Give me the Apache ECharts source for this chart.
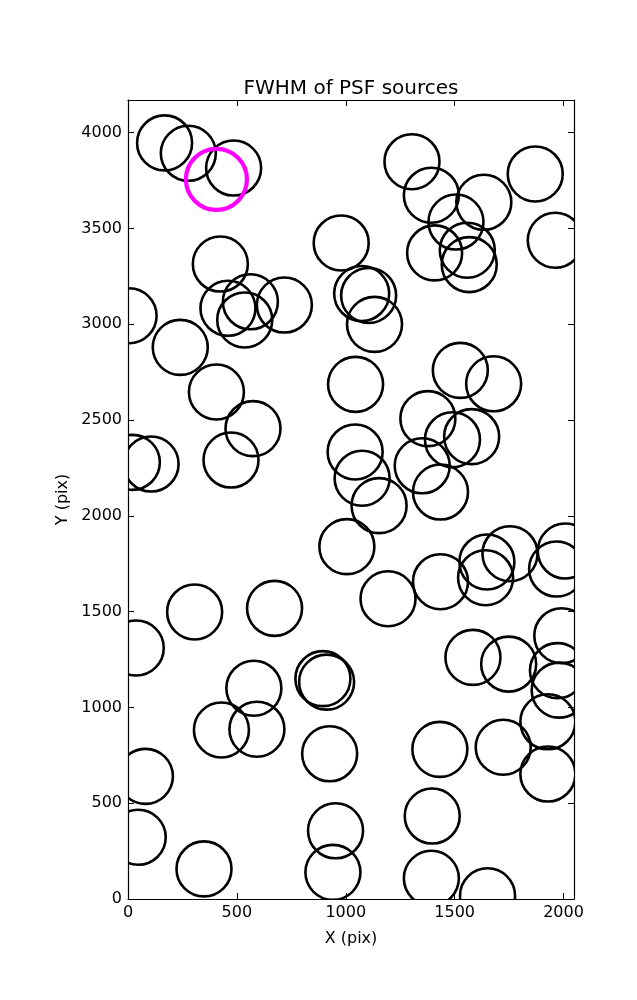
<!DOCTYPE html>
<html>
<head>
<meta charset="utf-8">
<script src="https://cdn.jsdelivr.net/npm/echarts@6/dist/echarts.min.js"></script>
<style>html,body{margin:0;padding:0;background:#fff;}#c{width:637px;height:1000px;}</style>
</head>
<body>
<div id="c"></div>
<script>
// Source positions (pix)
var srcX = [168,277,485,424,979,1304,1393,1634,1506,1870,1962,1408,1558,1567,1073,1105,1132,5,240,406,574,473,20,106,459,562,536,718,1045,1043,1075,1526,1679,1377,1578,1490,1351,1435,1153,1005,1194,1435,1642,1648,1754,1968,2008,1584,1748,1992,1972,1980,306,673,38,578,895,912,429,592,926,80,47,349,953,941,1432,1723,1928,1928,1397,1393,1651];
var srcY = [3946,3892,3815,3314,3424,3848,3673,3636,3533,3784,3438,3372,3386,3311,3160,3150,2999,3044,2879,2646,2455,2291,2279,2270,3083,3117,3022,3100,2686,2333,2196,2759,2689,2507,2413,2397,2261,2124,2053,1839,1567,1656,1677,1759,1802,1722,1816,1261,1226,1374,1192,1090,1498,1517,1310,1100,1150,1132,882,886,758,640,322,157,356,139,781,792,652,925,433,108,17];
// Highlighted source
var hiX = [406];
var hiY = [3756];

var xTicks = [0,500,1000,1500,2000];
var yTicks = [0,500,1000,1500,2000,2500,3000,3500,4000];
var X_MAX = 2048, Y_MAX = 4170;

var normal = srcX.map(function(x,i){return [x, srcY[i]];});
var hi = hiX.map(function(x,i){return [x, hiY[i]];});

function circleRenderer(r, color, lw){
  return function(params, api){
    var p = api.coord([api.value(0), api.value(1)]);
    return {type:'circle', shape:{cx:p[0], cy:p[1], r:r}, style:{fill:'none', stroke:color, lineWidth:lw}};
  };
}

var font = 'DejaVu Sans';
var chart = echarts.init(document.getElementById('c'));
var tickStyle = {show:true, inside:true, length:6, lineStyle:{color:'#000', width:1}};
var lineStyle = {show:true, onZero:false, lineStyle:{color:'#000', width:1.2}};
function fmt(v){ return xTicks.indexOf(v) >= 0 || yTicks.indexOf(v) >= 0 ? String(v) : ''; }
chart.setOption({
  animation:false,
  title:{text:'FWHM of PSF sources', left:346, top:74, textAlign:'center', textStyle:{fontFamily:font, fontSize:20, fontWeight:'normal', color:'#000'}},
  grid:{left:128, top:100, width:446, height:799, containLabel:false},
  xAxis:[
    {type:'value', min:0, max:X_MAX, interval:500, position:'bottom', axisLine:lineStyle, axisTick:tickStyle, splitLine:{show:false},
     axisLabel:{fontFamily:font, fontSize:16, color:'#000', margin:6, showMaxLabel:false, formatter:fmt},
     name:'X (pix)', nameLocation:'middle', nameGap:32, nameTextStyle:{fontFamily:font, fontSize:16, color:'#000'}},
    {type:'value', min:0, max:X_MAX, interval:500, position:'top', axisLine:lineStyle, axisTick:tickStyle, splitLine:{show:false}, axisLabel:{show:false}}
  ],
  yAxis:[
    {type:'value', min:0, max:Y_MAX, interval:500, position:'left', axisLine:lineStyle, axisTick:tickStyle, splitLine:{show:false},
     axisLabel:{fontFamily:font, fontSize:16, color:'#000', margin:6, showMaxLabel:false, formatter:fmt},
     name:'Y (pix)', nameLocation:'middle', nameGap:56, nameTextStyle:{fontFamily:font, fontSize:16, color:'#000'}},
    {type:'value', min:0, max:Y_MAX, interval:500, position:'right', axisLine:lineStyle, axisTick:tickStyle, splitLine:{show:false}, axisLabel:{show:false}}
  ],
  series:[
    {type:'custom', clip:true, data:normal, renderItem:circleRenderer(27.5,'#000',2.6), encode:{x:0,y:1}},
    {type:'custom', clip:true, data:hi, renderItem:circleRenderer(30.5,'#ff00ff',4.2), encode:{x:0,y:1}}
  ]
});
</script>
</body>
</html>
